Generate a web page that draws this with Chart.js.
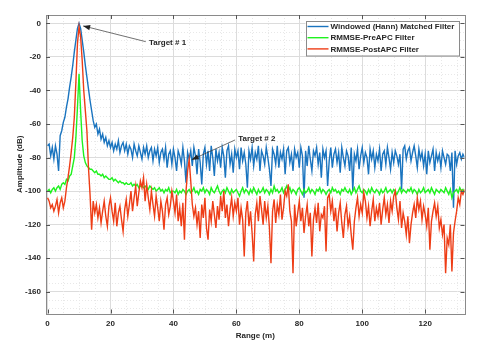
<!DOCTYPE html>
<html>
<head>
<meta charset="utf-8">
<script src="https://cdn.jsdelivr.net/npm/chart.js@4.4.1/dist/chart.umd.min.js"></script>
<style>
  html, body { margin: 0; padding: 0; background: #fff; }
</style>
</head>
<body>
<canvas id="chart" width="491" height="343"></canvas>
<script>
// samples are every 0.5 m starting at 0 m
const rangeStep = 0.5;

const hannMF = [
  -73, -72, -79, -74, -81, -73, -78, -88, -67, -64,
  -59, -56, -50, -45, -38, -32, -25, -17, -10, -3,
  0, -3, -10, -17, -25, -32, -39, -46, -52, -58,
  -62, -60, -66, -63, -69, -66, -71, -68, -73, -70,
  -74, -71, -76, -72, -75, -70, -77, -73, -71, -76,
  -72, -78, -73, -75, -80, -72, -76, -79, -73, -77,
  -81, -74, -78, -73, -80, -76, -74, -82, -75, -79,
  -74, -83, -77, -75, -81, -74, -86, -78, -76, -84,
  -75, -80, -88, -76, -79, -84, -74, -82, -95, -77,
  -81, -76, -85, -74, -79, -90, -75, -83, -96, -78,
  -74, -84, -76, -88, -73, -80, -91, -75, -82, -77,
  -86, -74, -79, -92, -76, -73, -84, -78, -89, -75,
  -80, -76, -87, -74, -82, -77, -84, -98, -76, -81,
  -74, -85, -77, -81, -73, -88, -76, -79, -84, -74,
  -80, -87, -97, -75, -78, -84, -73, -86, -77, -81,
  -75, -90, -76, -74, -83, -78, -88, -75, -80, -77,
  -86, -74, -79, -104, -76, -85, -73, -81, -88, -76,
  -79, -74, -84, -77, -92, -75, -80, -76, -97, -82,
  -74, -86, -78, -75, -83, -77, -89, -74, -80, -85,
  -76, -79, -88, -74, -100, -78, -82, -75, -87, -79,
  -74, -83, -77, -80, -90, -75, -81, -76, -86, -78,
  -82, -75, -88, -78, -76, -84, -74, -80, -87, -77,
  -83, -76, -79, -84, -78, -99, -75, -73, -81, -76,
  -74, -82, -77, -73, -79, -86, -75, -81, -77, -85,
  -78, -90, -76, -83, -79, -75, -88, -77, -82, -78,
  -86, -76, -80, -84, -78, -79, -88, -77, -110, -76,
  -84, -79, -77, -81, -78, -80
];

const preAPC = [
  -100, -99, -101, -99, -98, -100, -98, -97, -99, -96,
  -95, -96, -93, -94, -91, -90, -85, -80, -68, -50,
  -30, -52, -70, -79, -83, -85, -86, -87, -87, -88,
  -89, -88, -90, -90, -91, -90, -92, -91, -92, -93,
  -93, -92, -94, -93, -94, -95, -94, -95, -95, -96,
  -95, -96, -96, -95, -97, -96, -97, -96, -98, -97,
  -97, -98, -97, -98, -99, -97, -98, -99, -98, -100,
  -99, -98, -100, -99, -101, -99, -100, -98, -101, -100,
  -100, -101, -99, -102, -100, -101, -99, -100, -102, -100,
  -99, -101, -100, -98, -101, -100, -102, -99, -100, -98,
  -101, -99, -100, -102, -98, -100, -101, -99, -97, -100,
  -102, -100, -99, -101, -98, -100, -102, -99, -101, -100,
  -99, -101, -103, -100, -98, -101, -99, -100, -102, -99,
  -101, -98, -100, -102, -99, -101, -100, -98, -101, -99,
  -100, -102, -99, -101, -97, -100, -99, -101, -100, -98,
  -101, -99, -97, -100, -98, -101, -99, -100, -102, -99,
  -98, -100, -102, -99, -101, -100, -98, -101, -99, -100,
  -102, -99, -100, -98, -101, -99, -100, -102, -100, -99,
  -101, -98, -100, -99, -101, -100, -102, -99, -100, -98,
  -100, -101, -99, -102, -100, -98, -101, -99, -97, -100,
  -101, -99, -100, -102, -99, -101, -98, -100, -101, -99,
  -100, -102, -99, -101, -100, -98, -101, -100, -99, -101,
  -99, -100, -102, -100, -98, -101, -99, -100, -101, -99,
  -100, -98, -101, -99, -100, -102, -99, -101, -100, -98,
  -101, -100, -99, -101, -98, -100, -102, -99, -100, -101,
  -99, -100, -101, -98, -100, -102, -99, -104, -101, -100,
  -99, -101, -98, -100, -99, -101
];

const postAPC = [
  -104, -106, -110, -108, -112, -109, -105, -113, -107, -104,
  -110, -106, -98, -92, -85, -77, -68, -56, -35, -12,
  -2, -8, -22, -40, -52, -64, -86, -102, -123, -106,
  -113, -108, -116, -110, -119, -112, -106, -115, -121, -109,
  -104, -112, -118, -107, -121, -113, -109, -117, -124, -111,
  -105, -115, -108, -100, -112, -104, -97, -109, -101, -94,
  -98, -92, -106, -96, -104, -111, -100, -108, -115, -103,
  -110, -118, -106, -112, -123, -108, -104, -114, -109, -100,
  -106, -113, -102, -118, -110, -121, -107, -129, -100, -88,
  -81, -94, -108, -115, -110, -120, -112, -128, -108, -116,
  -104, -122, -129, -111, -118, -106, -114, -122, -109, -117,
  -103, -112, -100, -116, -108, -121, -111, -104, -115, -107,
  -112, -104, -120, -110, -117, -139, -113, -106, -121, -112,
  -125, -142, -114, -107, -118, -103, -111, -120, -106, -116,
  -109, -122, -143, -112, -105, -119, -108, -114, -102, -117,
  -110, -100, -103, -96, -112, -118, -149, -108, -121, -113,
  -106, -118, -110, -125, -115, -108, -121, -113, -139, -117,
  -110, -119, -107, -124, -114, -116, -109, -136, -104, -102,
  -112, -106, -118, -110, -124, -113, -107, -119, -128, -114,
  -109, -121, -115, -126, -135, -118, -110, -104, -115, -108,
  -113, -101, -106, -116, -109, -121, -112, -105, -118, -110,
  -115, -107, -120, -111, -104, -114, -108, -119, -106, -112,
  -103, -100, -110, -117, -106, -122, -113, -118, -126, -115,
  -131, -120, -113, -108, -116, -104, -111, -106, -117, -109,
  -114, -121, -110, -135, -118, -112, -107, -115, -109, -122,
  -117, -126, -120, -149, -128, -132, -120, -148, -125, -118,
  -112, -104, -108, -100, -102, -99
];

const seriesNames = ['Windowed (Hann) Matched Filter', 'RMMSE-PreAPC Filter', 'RMMSE-PostAPC Filter'];
const xTickValues = [0, 20, 40, 60, 80, 100, 120];
const yTickValues = [-160, -140, -120, -100, -80, -60, -40, -20, 0];

const seriesColors = ['#1a74bf', '#1ff21f', '#ee3d16'];
const textColor = '#262626';

const toPoints = arr => arr.map((v, i) => ({ x: i * rangeStep, y: v }));

// annotation text and arrow ends, in data units
const annotations = [
  { text: 'Target # 1', textAt: [32.2, -11.5], from: [31.2, -10.9], to: [11.3, -1.5] },
  { text: 'Target # 2', textAt: [60.6, -68.9], from: [59.6, -69.5], to: [45.8, -81.3] }
];

Chart.defaults.font.family = "'Liberation Sans', Arial, sans-serif";
Chart.defaults.font.size = 8;
Chart.defaults.font.weight = 'bold';
Chart.defaults.color = textColor;

const minorGrid = {
  id: 'minorGrid',
  beforeDatasetsDraw(chart) {
    const { ctx, chartArea: a, scales: { x, y } } = chart;
    ctx.save();
    ctx.strokeStyle = '#e8e8e8';
    ctx.lineWidth = 1;
    ctx.setLineDash([1, 2]);
    for (let v = 5; v < x.max; v += 5) {
      if (v % 20 === 0) continue;
      const px = Math.round(x.getPixelForValue(v)) + 0.5;
      ctx.beginPath(); ctx.moveTo(px, a.top); ctx.lineTo(px, a.bottom); ctx.stroke();
    }
    for (let v = -170; v < y.max; v += 5) {
      if (v % 20 === 0) continue;
      const py = Math.round(y.getPixelForValue(v)) + 0.5;
      ctx.beginPath(); ctx.moveTo(a.left, py); ctx.lineTo(a.right, py); ctx.stroke();
    }
    ctx.restore();
  }
};

const frame = {
  id: 'frame',
  afterDatasetsDraw(chart) {
    const { ctx, chartArea: a, scales: { x, y } } = chart;
    ctx.save();
    ctx.strokeStyle = '#8a8a8a';
    ctx.lineWidth = 1;
    ctx.strokeRect(Math.round(a.left) + 0.5, Math.round(a.top) + 0.5,
      Math.round(a.right - a.left), Math.round(a.bottom - a.top));
    ctx.strokeStyle = '#555';
    xTickValues.forEach(v => {
      const px = Math.round(x.getPixelForValue(v)) + 0.5;
      ctx.beginPath();
      ctx.moveTo(px, a.bottom); ctx.lineTo(px, a.bottom - 4);
      ctx.moveTo(px, a.top); ctx.lineTo(px, a.top + 4);
      ctx.stroke();
    });
    yTickValues.forEach(v => {
      const py = Math.round(y.getPixelForValue(v)) + 0.5;
      ctx.beginPath();
      ctx.moveTo(a.left, py); ctx.lineTo(a.left + 4, py);
      ctx.moveTo(a.right, py); ctx.lineTo(a.right - 4, py);
      ctx.stroke();
    });
    ctx.restore();
  }
};

const overlay = {
  id: 'overlay',
  afterDraw(chart) {
    const { ctx, chartArea: a, scales: { x, y } } = chart;
    ctx.save();
    ctx.font = "bold 8px 'Liberation Sans', Arial, sans-serif";
    ctx.textBaseline = 'middle';

    // arrows + labels
    annotations.forEach(an => {
      const x1 = x.getPixelForValue(an.from[0]), y1 = y.getPixelForValue(an.from[1]);
      const x2 = x.getPixelForValue(an.to[0]), y2 = y.getPixelForValue(an.to[1]);
      ctx.strokeStyle = '#333';
      ctx.fillStyle = '#222';
      ctx.lineWidth = 0.7;
      ctx.beginPath(); ctx.moveTo(x1, y1); ctx.lineTo(x2, y2); ctx.stroke();
      const ang = Math.atan2(y2 - y1, x2 - x1);
      const len = 7, hw = 2.6;
      const bx = x2 - len * Math.cos(ang), by = y2 - len * Math.sin(ang);
      ctx.beginPath();
      ctx.moveTo(x2, y2);
      ctx.lineTo(bx + hw * Math.sin(ang), by - hw * Math.cos(ang));
      ctx.lineTo(bx - hw * Math.sin(ang), by + hw * Math.cos(ang));
      ctx.closePath();
      ctx.fill();
      ctx.fillStyle = textColor;
      ctx.textAlign = 'left';
      ctx.fillText(an.text, x.getPixelForValue(an.textAt[0]), y.getPixelForValue(an.textAt[1]));
    });

    // legend box, top right inside the axes
    const lw = 153, lh = 34.5;
    const lx = a.right - 6 - lw, ly = a.top + 5.5;
    ctx.fillStyle = '#fff';
    ctx.fillRect(lx, ly, lw, lh);
    ctx.strokeStyle = '#8a8a8a';
    ctx.lineWidth = 1;
    ctx.strokeRect(Math.round(lx) + 0.5, Math.round(ly) + 0.5, lw, lh);
    seriesNames.forEach((name, i) => {
      const ry = ly + 6 + i * 11.2;
      ctx.strokeStyle = seriesColors[i];
      ctx.lineWidth = 1.4;
      ctx.beginPath(); ctx.moveTo(lx + 2, ry); ctx.lineTo(lx + 23, ry); ctx.stroke();
      ctx.fillStyle = textColor;
      ctx.textAlign = 'left';
      ctx.fillText(name, lx + 25, ry + 0.5);
    });
    ctx.restore();
  }
};

new Chart(document.getElementById('chart'), {
  type: 'line',
  data: {
    datasets: [
      { label: seriesNames[0], data: toPoints(hannMF), borderColor: seriesColors[0], order: 3 },
      { label: seriesNames[1], data: toPoints(preAPC), borderColor: seriesColors[1], order: 2 },
      { label: seriesNames[2], data: toPoints(postAPC), borderColor: seriesColors[2], order: 1 }
    ]
  },
  options: {
    responsive: false,
    animation: false,
    elements: {
      point: { radius: 0 },
      line: { borderWidth: 1.4, tension: 0, fill: false }
    },
    layout: { padding: { left: 0, right: 26.5, top: 15, bottom: 0 } },
    plugins: { legend: { display: false }, tooltip: { enabled: false } },
    scales: {
      x: {
        type: 'linear',
        min: -0.5,
        max: 132.5,
        afterBuildTicks: s => { s.ticks = xTickValues.map(v => ({ value: v })); },
        afterFit: s => { s.height = 29.5; },
        ticks: { padding: 5, maxRotation: 0, color: textColor },
        grid: { color: '#dcdcdc', drawTicks: false },
        border: { display: false },
        title: { display: true, text: 'Range (m)', color: textColor, padding: { top: 2, bottom: 2 } }
      },
      y: {
        type: 'linear',
        min: -173,
        max: 5,
        afterBuildTicks: s => { s.ticks = yTickValues.map(v => ({ value: v })); },
        afterFit: s => { s.width = 46; },
        ticks: { padding: 5, color: textColor },
        grid: { color: '#dcdcdc', drawTicks: false },
        border: { display: false },
        title: { display: true, text: 'Amplitude (dB)', color: textColor, padding: { top: 15, bottom: 2 } }
      }
    }
  },
  plugins: [minorGrid, frame, overlay]
});
</script>
</body>
</html>
